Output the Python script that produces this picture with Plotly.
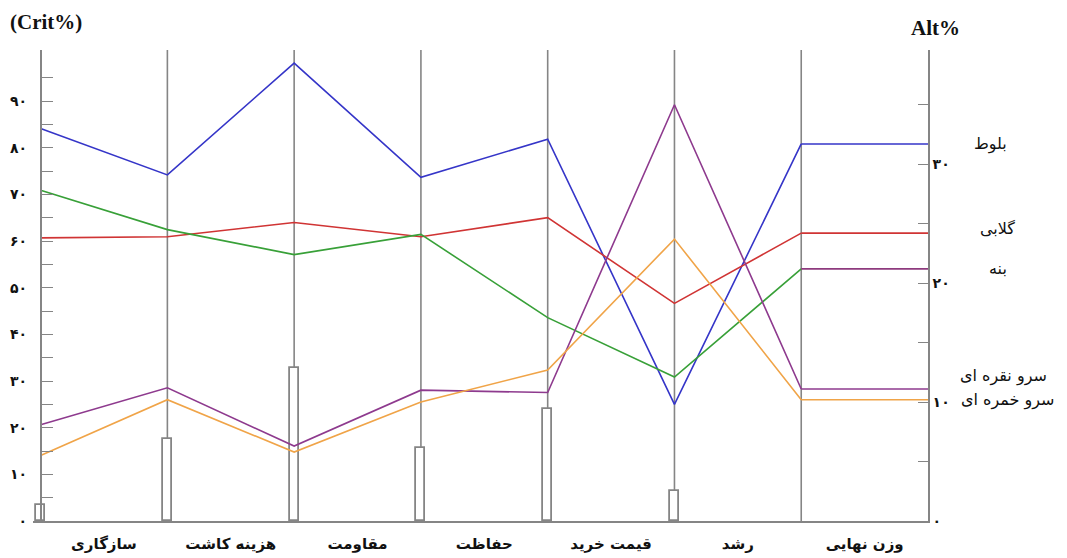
import plotly.graph_objects as go

# ---------------- data ----------------
criteria = ["سازگاری", "هزینه کاشت", "مقاومت", "حفاظت", "قیمت خرید", "رشد", "وزن نهایی"]
crit_weights = [3.4, 17.6, 32.8, 15.7, 24.0, 6.4]  # Crit% bars (first six criteria)

alternatives = ["بلوط", "گلابی", "بنه", "سرو نقره ای", "سرو خمره ای"]
# Alt% of each alternative under each criterion, last value = overall (وزن نهایی)
alt_balut = [33.0, 29.1, 38.5, 28.9, 32.1, 9.8, 31.7]
alt_golabi = [23.8, 23.9, 25.1, 23.9, 25.5, 18.3, 24.2]
alt_baneh = [27.8, 24.5, 22.4, 24.1, 17.1, 12.1, 21.2]
alt_noghreh = [8.1, 11.2, 6.3, 11.0, 10.8, 35.0, 11.1]
alt_khomreh = [5.5, 10.2, 5.8, 10.0, 12.7, 23.7, 10.2]

crit_ticks = [0, 10, 20, 30, 40, 50, 60, 70, 80, 90]
alt_ticks = [0, 10, 20, 30]

# ---------------- style ----------------
series = [alt_balut, alt_golabi, alt_baneh, alt_noghreh, alt_khomreh]
line_colors = ["#3535c8", "#d03434", "#38a038", "#8e3a8e", "#f0a448"]
overall_colors = ["#3535c8", "#d03434", "#8e3a7e", "#8e3a8e", "#f0a448"]
label_x_px = [990, 997, 998, 1003, 1007]
label_yshift = [0, 5, 0, 13, 0]

fa_digits = str.maketrans("0123456789", "۰۱۲۳۴۵۶۷۸۹")
def fa(n):
    return str(n).translate(fa_digits)

GRAY = "#858585"
W, H = 1067, 558
X0 = -0.06
px_per_unit = (928 - 41) / 7.0
ml = 41 - (-X0) * px_per_unit
mr = W - 928
mt, mb = 50, 37
plot_w = W - ml - mr
plot_h = H - mt - mb

fig = go.Figure()

# criteria weight bars (hollow)
fig.add_trace(go.Bar(
    x=list(range(len(crit_weights))), y=crit_weights, width=0.072,
    marker=dict(color="white", line=dict(color=GRAY, width=1.8)),
    yaxis="y", showlegend=False, hoverinfo="skip"))

n = len(criteria)
for vals, c, oc in zip(series, line_colors, overall_colors):
    fig.add_trace(go.Scatter(
        x=list(range(n)), y=vals, mode="lines",
        line=dict(color=c, width=1.6), yaxis="y2", showlegend=False))
    fig.add_trace(go.Scatter(
        x=[n - 1, n], y=[vals[-1], vals[-1]], mode="lines",
        line=dict(color=oc, width=1.6), yaxis="y2", showlegend=False))

# vertical criterion lines
shapes = []
for i in range(1, n):
    shapes.append(dict(type="line", xref="x", yref="paper", x0=i, x1=i, y0=0, y1=1,
                       line=dict(color=GRAY, width=1.6), layer="below"))

left_vals = list(range(0, 100, 5))
left_text = [fa(v) if v in crit_ticks else "" for v in left_vals]
right_vals = list(range(0, 40, 5))
right_text = [fa(v) if v in alt_ticks else "" for v in right_vals]

annotations = [
    dict(text="<b>(Crit%)</b>", xref="paper", yref="paper", x=(46 - ml) / plot_w, y=1 + (mt - 22) / plot_h,
         showarrow=False, xanchor="center", yanchor="middle",
         font=dict(family="Liberation Serif", size=21, color="#111")),
    dict(text="<b>Alt%</b>", xref="paper", yref="paper", x=(935 - ml) / plot_w, y=1 + (mt - 28) / plot_h,
         showarrow=False, xanchor="center", yanchor="middle",
         font=dict(family="Liberation Serif", size=21, color="#111")),
]
for name, vals, lx, ys in zip(alternatives, series, label_x_px, label_yshift):
    annotations.append(dict(text=name, xref="paper", yref="y2", x=(lx - ml) / plot_w, y=vals[-1],
                            yshift=ys, showarrow=False, xanchor="center", yanchor="middle",
                            font=dict(family="DejaVu Sans", size=16, color="#111")))

fig.update_layout(
    width=W, height=H,
    margin=dict(l=ml, r=mr, t=mt, b=mb, pad=0, autoexpand=False),
    paper_bgcolor="white", plot_bgcolor="white",
    showlegend=False,
    bargap=0,
    xaxis=dict(range=[X0, n], showgrid=False, zeroline=False, automargin=False,
               showline=True, linecolor=GRAY, linewidth=1.6,
               tickvals=[i + 0.5 for i in range(n)], ticktext=criteria, ticks="",
               ticklabelstandoff=8,
               tickfont=dict(family="DejaVu Sans", size=15, color="#111", weight="bold")),
    yaxis=dict(range=[0, 101], showgrid=False, zeroline=False, automargin=False,
               anchor="free", position=(-X0) / (n - X0),
               showline=True, linecolor=GRAY, linewidth=1.6,
               tickvals=left_vals, ticktext=left_text, ticks="inside", ticklen=12,
               tickcolor=GRAY, tickwidth=1.2, ticklabelstandoff=10,
               tickfont=dict(family="DejaVu Sans", size=14, color="#111", weight="bold")),
    yaxis2=dict(range=[0, 39.6], overlaying="y", side="right", anchor="x",
                showgrid=False, zeroline=False, automargin=False,
                showline=True, linecolor=GRAY, linewidth=1.6,
                tickvals=right_vals, ticktext=right_text, ticks="inside", ticklen=10,
                tickcolor=GRAY, tickwidth=1.2,
                tickfont=dict(family="DejaVu Sans", size=14, color="#111", weight="bold")),
    shapes=shapes,
    annotations=annotations,
)

fig.write_html("out.html", config={"displayModeBar": False},
               post_script="document.body.style.margin='0';")
